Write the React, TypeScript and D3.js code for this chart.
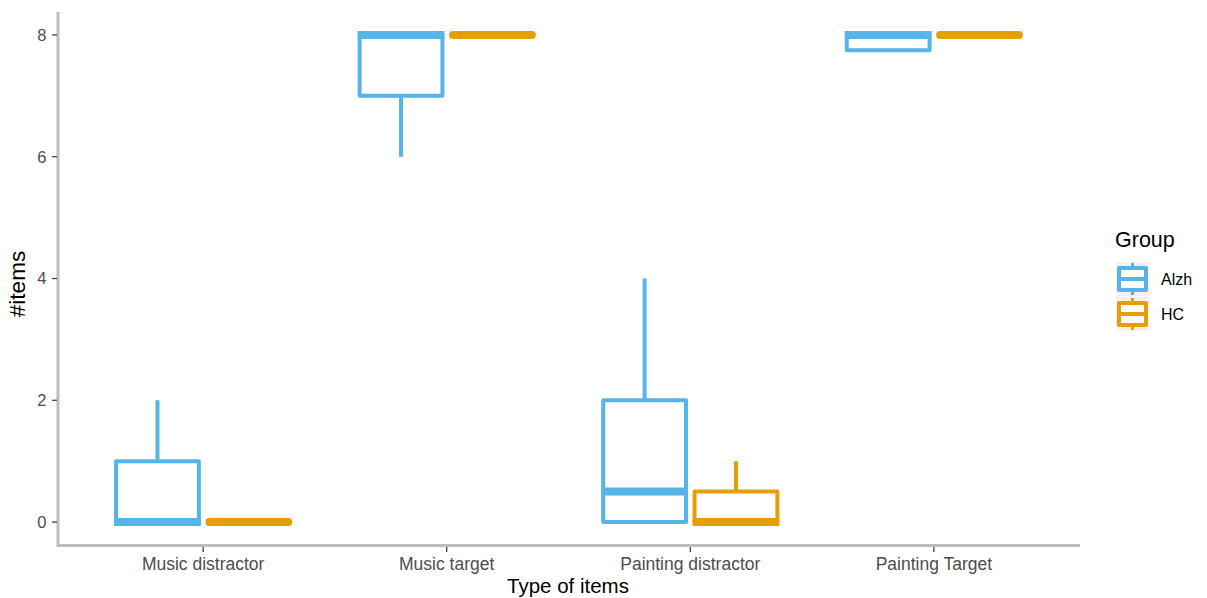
import React from "react";
import * as d3 from "d3";

const categories = ["Music distractor", "Music target", "Painting distractor", "Painting Target"];
const groups = ["Alzh", "HC"];
const groupColors = ["#56B4E9", "#E69F00"];
// [lowerWhisker, q1, median, q3, upperWhisker] per category
const alzhStats = [
  [0, 0, 0, 1, 2],
  [6, 7, 8, 8, 8],
  [0, 0, 0.5, 2, 4],
  [7.75, 7.75, 8, 8, 8],
];
const hcStats = [
  [0, 0, 0, 0, 0],
  [8, 8, 8, 8, 8],
  [0, 0, 0, 0.5, 1],
  [8, 8, 8, 8, 8],
];
const yTicks = [0, 2, 4, 6, 8];

const W = 1207, H = 598;
const left = 57, right = 1080, top = 10.6, bottom = 546.4;

export default function App() {
  const x = d3.scaleLinear().domain([0.4, 4.6]).range([left, right]);
  const y = d3.scaleLinear().domain([-0.4, 8.4]).range([bottom, top]);
  const unit = x(2) - x(1);
  const dodge = 0.375 * unit;
  const boxW = 0.34 * unit;
  const font = "'Liberation Sans', Arial, sans-serif";
  const stats = [alzhStats, hcStats];

  const boxes: any[] = [];
  categories.forEach((c, ci) => {
    groups.forEach((g, gi) => {
      const s = stats[gi][ci];
      const cx = x(ci + 1) + (gi === 0 ? -dodge / 2 : dodge / 2);
      const col = groupColors[gi];
      const [lw, q1, med, q3, uw] = s;
      const x0 = cx - boxW / 2, x1 = cx + boxW / 2;
      const flat = !(q3 > q1);
      boxes.push(
        <g key={c + g}>
          {uw > q3 && <line x1={cx} x2={cx} y1={y(q3)} y2={y(uw)} stroke={col} strokeWidth={4} />}
          {lw < q1 && <line x1={cx} x2={cx} y1={y(q1)} y2={y(lw)} stroke={col} strokeWidth={4} />}
          {!flat && (
            <rect x={x0} y={y(q3)} width={x1 - x0} height={y(q1) - y(q3)} fill="white" stroke={col} strokeWidth={4} strokeLinejoin="round" />
          )}
          <line
            x1={flat ? x0 + 2 : x0 - 2}
            x2={flat ? x1 - 2 : x1 + 2}
            y1={y(med)}
            y2={y(med)}
            stroke={col}
            strokeWidth={8}
            strokeLinecap={flat ? "round" : "butt"}
          />
        </g>
      );
    });
  });

  return (
    <svg width={W} height={H} style={{ position: "absolute", left: 0, top: 0, background: "white" }}>
      {boxes}
      {/* axes */}
      <line x1={left + 1} x2={left + 1} y1={12} y2={547} stroke="#bdbdbd" strokeWidth={3} />
      <line x1={left} x2={right} y1={545.5} y2={545.5} stroke="#bdbdbd" strokeWidth={3} />
      {yTicks.map((t) => (
        <g key={t}>
          <line x1={52} x2={57} y1={y(t)} y2={y(t)} stroke="#333" strokeWidth={1.2} />
          <text x={46.5} y={y(t)} dy="0.35em" textAnchor="end" fontFamily={font} fontSize={16.5} fill="#4d4d4d">{t}</text>
        </g>
      ))}
      {categories.map((c, i) => (
        <g key={c}>
          <line x1={x(i + 1)} x2={x(i + 1)} y1={547} y2={552} stroke="#333" strokeWidth={1.2} />
          <text x={x(i + 1)} y={564} dy="0.35em" textAnchor="middle" fontFamily={font} fontSize={17.5} fill="#4d4d4d">{c}</text>
        </g>
      ))}
      <text x={568} y={586} dy="0.35em" textAnchor="middle" fontFamily={font} fontSize={20.5} fill="black">Type of items</text>
      <text transform={`translate(17,284) rotate(-90)`} dy="0.35em" textAnchor="middle" fontFamily={font} fontSize={22.5} fill="black">#items</text>
      {/* legend */}
      <text x={1115} y={239} dy="0.35em" fontFamily={font} fontSize={21.5} fill="black">Group</text>
      {groups.map((g, i) => {
        const ky = 262 + i * 35;
        const col = groupColors[i];
        return (
          <g key={g}>
            <rect x={1116} y={ky} width={33} height={34} fill="#f2f2f2" />
            <line x1={1132.5} x2={1132.5} y1={ky + 1} y2={ky + 33} stroke={col} strokeWidth={3} />
            <rect x={1119} y={ky + 6} width={27} height={22} fill="white" stroke={col} strokeWidth={4} strokeLinejoin="round" />
            <line x1={1119} x2={1146} y1={ky + 17} y2={ky + 17} stroke={col} strokeWidth={4} />
            <text x={1161} y={ky + 17} dy="0.35em" fontFamily={font} fontSize={16} fill="black">{g}</text>
          </g>
        );
      })}
    </svg>
  );
}
